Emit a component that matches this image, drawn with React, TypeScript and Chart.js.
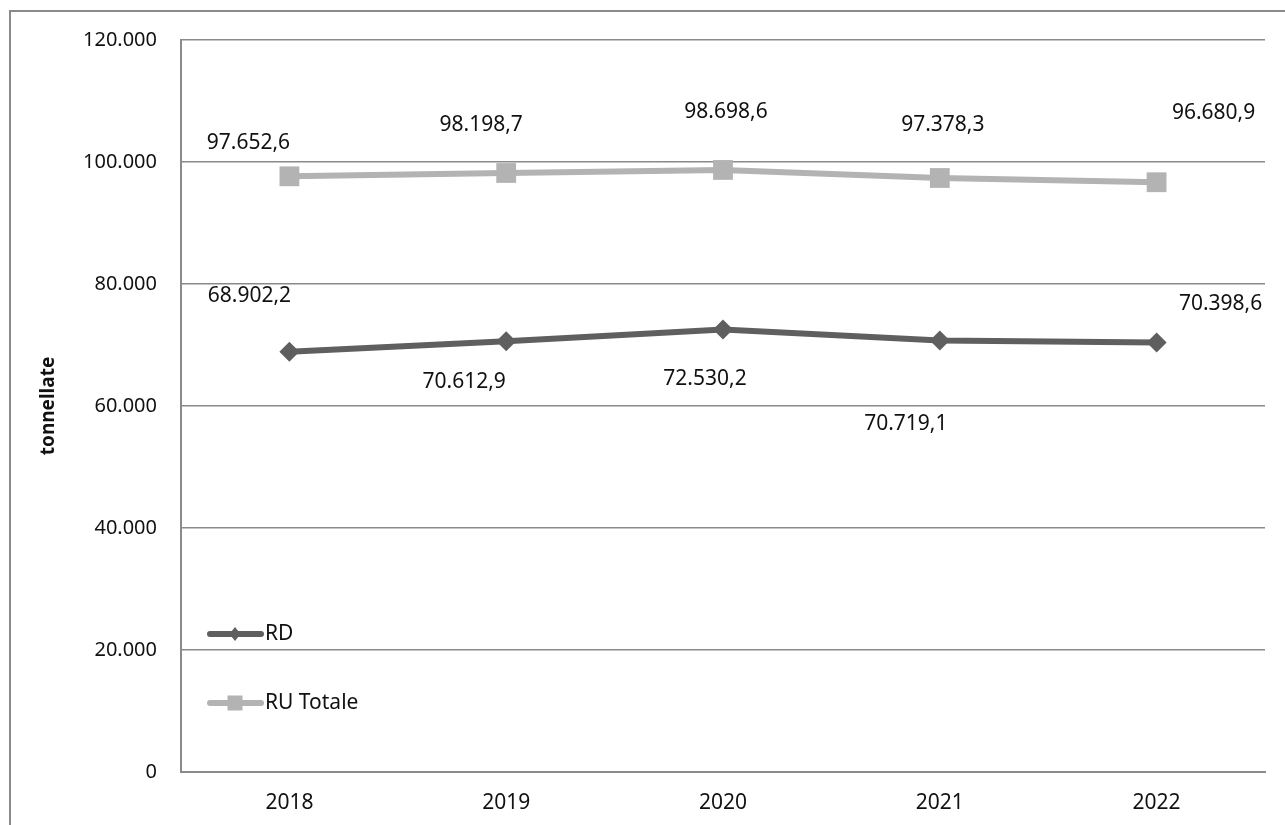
import React, { useEffect, useRef } from "react";
import { Chart, registerables } from "chart.js";

Chart.register(...registerables);

const categories = ["2018", "2019", "2020", "2021", "2022"];
const rdValues = [68902.2, 70612.9, 72530.2, 70719.1, 70398.6];
const ruValues = [97652.6, 98198.7, 98698.6, 97378.3, 96680.9];
const seriesNames = ["RD", "RU Totale"];
const yTickValues = [0, 20000, 40000, 60000, 80000, 100000, 120000];

// label placement offsets (dx, dy) in px relative to the point
const rdLabelOffsets = [[-40, -56], [-42, 41], [-18, 49], [-34, 83], [64, -39]];
const ruLabelOffsets = [[-41, -33], [-25, -48], [3, -58], [3, -53], [57, -69]];

const RD_COLOR = "#5f5f5f";
const RU_COLOR = "#b3b3b3";
const FONT = "'Noto Sans', 'Open Sans', sans-serif";

function fmtThousands(v: number): string {
  const s = Math.round(v).toString();
  return s.replace(/\B(?=(\d{3})+(?!\d))/g, ".");
}
function fmtValue(v: number): string {
  const neg = v < 0;
  const a = Math.abs(v);
  const intPart = Math.floor(a);
  const dec = Math.round((a - intPart) * 10);
  return (neg ? "-" : "") + fmtThousands(intPart) + "," + dec;
}

const decorPlugin = {
  id: "decor",
  beforeDraw(chart: any) {
    const ctx = chart.ctx;
    ctx.save();
    ctx.fillStyle = "#ffffff";
    ctx.fillRect(0, 0, chart.width, chart.height);
    ctx.strokeStyle = "#8a8a8a";
    ctx.lineWidth = 2;
    ctx.beginPath();
    ctx.moveTo(10, chart.height + 10);
    ctx.lineTo(10, 11);
    ctx.lineTo(chart.width + 10, 11);
    ctx.stroke();
    ctx.restore();
  },
  afterDatasetsDraw(chart: any) {
    const ctx = chart.ctx;
    ctx.save();
    ctx.font = `21px ${FONT}`;
    ctx.fillStyle = "#111111";
    ctx.textAlign = "center";
    ctx.textBaseline = "middle";
    const offs = [rdLabelOffsets, ruLabelOffsets];
    chart.data.datasets.forEach((ds: any, di: number) => {
      const meta = chart.getDatasetMeta(di);
      meta.data.forEach((pt: any, i: number) => {
        const [dx, dy] = offs[di][i];
        ctx.fillText(fmtValue(ds.data[i]), pt.x + dx, pt.y + dy);
      });
    });

    // legend
    const items = [
      { name: seriesNames[0], color: RD_COLOR, style: "diamond", y: 634 },
      { name: seriesNames[1], color: RU_COLOR, style: "square", y: 703 },
    ];
    items.forEach((it) => {
      ctx.strokeStyle = it.color;
      ctx.lineWidth = 6;
      ctx.lineCap = "round";
      ctx.beginPath();
      ctx.moveTo(210, it.y);
      ctx.lineTo(261, it.y);
      ctx.stroke();
      ctx.fillStyle = it.color;
      const cx = 235;
      if (it.style === "diamond") {
        ctx.beginPath();
        ctx.moveTo(cx, it.y - 7);
        ctx.lineTo(cx + 5.5, it.y);
        ctx.lineTo(cx, it.y + 7);
        ctx.lineTo(cx - 5.5, it.y);
        ctx.closePath();
        ctx.fill();
      } else {
        ctx.fillRect(cx - 7.5, it.y - 7.5, 15, 15);
      }
      ctx.fillStyle = "#111111";
      ctx.textAlign = "left";
      ctx.fillText(it.name, 265, it.y);
    });
    ctx.restore();
  },
};

export default function App() {
  const ref = useRef<HTMLCanvasElement | null>(null);
  useEffect(() => {
    if (!ref.current) return;
    const chart = new Chart(ref.current, {
      type: "line",
      data: {
        labels: categories,
        datasets: [
          {
            label: seriesNames[0],
            data: rdValues,
            borderColor: RD_COLOR,
            backgroundColor: RD_COLOR,
            borderWidth: 6,
            pointStyle: "rectRot",
            pointRadius: 10,
            pointBorderWidth: 0,
            tension: 0,
          },
          {
            label: seriesNames[1],
            data: ruValues,
            borderColor: RU_COLOR,
            backgroundColor: RU_COLOR,
            borderWidth: 6,
            pointStyle: "rect",
            pointRadius: 14,
            pointBorderWidth: 0,
            tension: 0,
          },
        ],
      },
      options: {
        animation: false,
        responsive: true,
        maintainAspectRatio: false,
        layout: { padding: { left: 0, top: 40, right: 20, bottom: 0 } },
        plugins: {
          legend: { display: false },
          tooltip: { enabled: false },
        },
        scales: {
          x: {
            offset: true,
            grid: { display: false, drawTicks: false },
            border: { display: true, color: "#8a8a8a", width: 2 },
            ticks: { color: "#111", font: { family: FONT, size: 21 }, padding: 18 },
            afterFit(scale: any) {
              scale.height = 53;
            },
          },
          y: {
            min: 0,
            max: 120000,
            afterBuildTicks(scale: any) {
              scale.ticks = yTickValues.map((v) => ({ value: v }));
            },
            grid: { color: "#8a8a8a", lineWidth: 1.5, drawTicks: false },
            border: { display: true, color: "#8a8a8a", width: 2 },
            ticks: {
              color: "#111",
              font: { family: FONT, size: 20 },
              padding: 24,
              callback: (v: any) => fmtThousands(Number(v)),
            },
            title: {
              display: true,
              text: "tonnellate",
              color: "#111",
              font: { family: FONT, size: 19, weight: "bold" },
              padding: { top: 37, bottom: 0 },
            },
            afterFit(scale: any) {
              scale.width = 181;
            },
          },
        },
      },
      plugins: [decorPlugin],
    });
    return () => chart.destroy();
  }, []);
  return (
    <div style={{ position: "fixed", left: 0, top: 0, width: 1285, height: 825, background: "#fff" }}>
      <canvas ref={ref} />
    </div>
  );
}
